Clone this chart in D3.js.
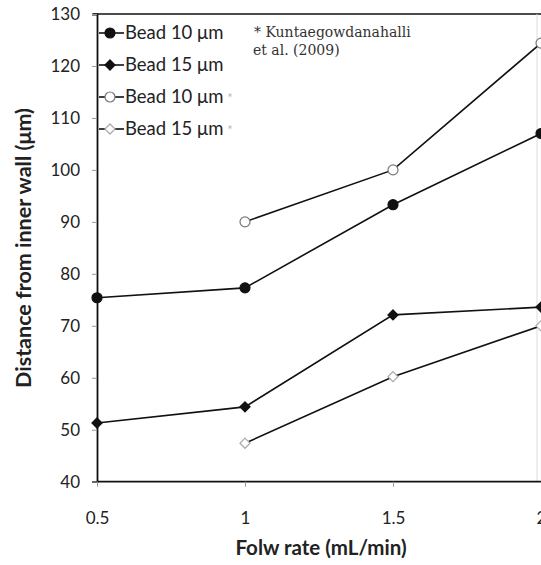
<!DOCTYPE html>
<html>
<head>
<meta charset="utf-8">
<script src="https://cdn.jsdelivr.net/npm/d3@7"></script>
<style>
  body { margin: 0; background: #fff; }
  svg { display: block; }
</style>
</head>
<body>
<div id="chart"></div>
<script>
// Bead focusing distance vs flow rate
const flowRates = [0.5, 1, 1.5, 2]
const xTicks = [0.5, 1, 1.5, 2]
const yTicks = [40, 50, 60, 70, 80, 90, 100, 110, 120, 130]

const bead10 = [75.4, 77.3, 93.3, 107]
const bead15 = [51.3, 54.4, 72.1, 73.6]
const bead10Ref = [null, 90, 100, 124.4]
const bead15Ref = [null, 47.4, 60.2, 70]

const seriesNames = ["Bead 10 \u03bcm", "Bead 15 \u03bcm", "Bead 10 \u03bcm", "Bead 15 \u03bcm"]

const W = 541, H = 565
const margin = { top: 14, left: 97, bottom: 84 }
const font = "Lato, 'Open Sans', sans-serif"

const svg = d3.select("#chart").append("svg")
  .attr("width", W)
  .attr("height", H)

const x = d3.scaleLinear().domain([0.5, 2]).range([margin.left, 541])
const y = d3.scaleLinear().domain([40, 130]).range([H - margin.bottom + 0.7, margin.top])

// frame: top border
svg.append("line")
  .attr("x1", margin.left - 4).attr("x2", W)
  .attr("y1", y(130)).attr("y2", y(130))
  .attr("stroke", "#111").attr("stroke-width", 1.6)

// faint right edge
svg.append("line")
  .attr("x1", 537).attr("x2", 537)
  .attr("y1", y(130)).attr("y2", y(40))
  .attr("stroke", "#ddd").attr("stroke-width", 1)

// axes
const yAxis = svg.append("g")
  .attr("transform", `translate(${margin.left},0)`)
  .call(d3.axisLeft(y).tickValues(yTicks).tickSize(5).tickPadding(12))
const xAxis = svg.append("g")
  .attr("transform", `translate(0,${y(40)})`)
  .call(d3.axisBottom(x).tickValues(xTicks).tickSize(5).tickPadding(25).tickFormat(d3.format("")))

for (const g of [xAxis, yAxis]) {
  g.select(".domain").attr("stroke", "#111").attr("stroke-width", 1.8)
  g.selectAll(".tick line").attr("stroke", "#999").attr("stroke-width", 1)
  g.selectAll("text")
    .style("font-family", font)
    .style("font-size", "17px")
    .attr("fill", "#222")
}
xAxis.select(".domain").attr("d", `M${margin.left},0H${W}`)
yAxis.selectAll("text").attr("dy", "0.35em")

// axis titles
svg.append("text")
  .attr("x", 321).attr("y", 555)
  .attr("text-anchor", "middle")
  .style("font-family", font)
  .style("font-size", "20.5px")
  .style("font-weight", "bold")
  .attr("fill", "#222")
  .text("Folw rate (mL/min)")

svg.append("text")
  .attr("transform", `translate(31,248) rotate(-90)`)
  .attr("text-anchor", "middle")
  .style("font-family", font)
  .style("font-size", "21.5px")
  .style("font-weight", "bold")
  .attr("fill", "#222")
  .text("Distance from inner wall (\u03bcm)")

const line = d3.line()
  .defined(d => d[1] != null)
  .x(d => x(d[0]))
  .y(d => y(d[1]))

const series = [
  { values: bead10, marker: "circle", fill: "#111", stroke: "#111" },
  { values: bead15, marker: "diamond", fill: "#111", stroke: "#111" },
  { values: bead10Ref, marker: "circle", fill: "#fff", stroke: "#777" },
  { values: bead15Ref, marker: "diamond", fill: "#fff", stroke: "#aaa" }
]

function drawMarker(g, s, cx, cy) {
  if (s.marker === "circle") {
    g.append("circle")
      .attr("cx", cx).attr("cy", cy).attr("r", 5)
      .attr("fill", s.fill).attr("stroke", s.stroke).attr("stroke-width", 1.2)
  } else {
    g.append("path")
      .attr("d", d3.symbol(d3.symbolDiamond2, 65)())
      .attr("transform", `translate(${cx},${cy})`)
      .attr("fill", s.fill).attr("stroke", s.stroke).attr("stroke-width", 1.2)
  }
}

series.forEach(s => {
  const pts = flowRates.map((f, i) => [f, s.values[i]])
  svg.append("path")
    .datum(pts)
    .attr("d", line)
    .attr("fill", "none")
    .attr("stroke", "#111")
    .attr("stroke-width", 1.6)
  const g = svg.append("g")
  pts.filter(p => p[1] != null).forEach(p => drawMarker(g, s, x(p[0]), y(p[1])))
})

// legend
const legendY = [33, 65, 97, 129]
series.forEach((s, i) => {
  const ly = legendY[i]
  svg.append("line")
    .attr("x1", 99).attr("x2", 124)
    .attr("y1", ly).attr("y2", ly)
    .attr("stroke", "#111").attr("stroke-width", 1.6)
  drawMarker(svg, s, 110, ly)
  const t = svg.append("text")
    .attr("x", 125).attr("y", ly)
    .attr("dy", "0.35em")
    .style("font-family", font)
    .style("font-size", "18.5px")
    .attr("fill", "#222")
    .text(seriesNames[i])
  if (i >= 2) {
    t.append("tspan")
      .attr("dx", 4)
      .attr("fill", "#bbb")
      .style("font-size", "13px")
      .text("*")
  }
})

// citation note
const note = svg.append("text")
  .style("font-family", "'DejaVu Serif', 'Liberation Serif', serif")
  .style("font-size", "14px")
  .attr("fill", "#333")
note.append("tspan").attr("x", 254).attr("y", 37).text("* Kuntaegowdanahalli")
note.append("tspan").attr("x", 253).attr("y", 55).text("et al. (2009)")
</script>
</body>
</html>
